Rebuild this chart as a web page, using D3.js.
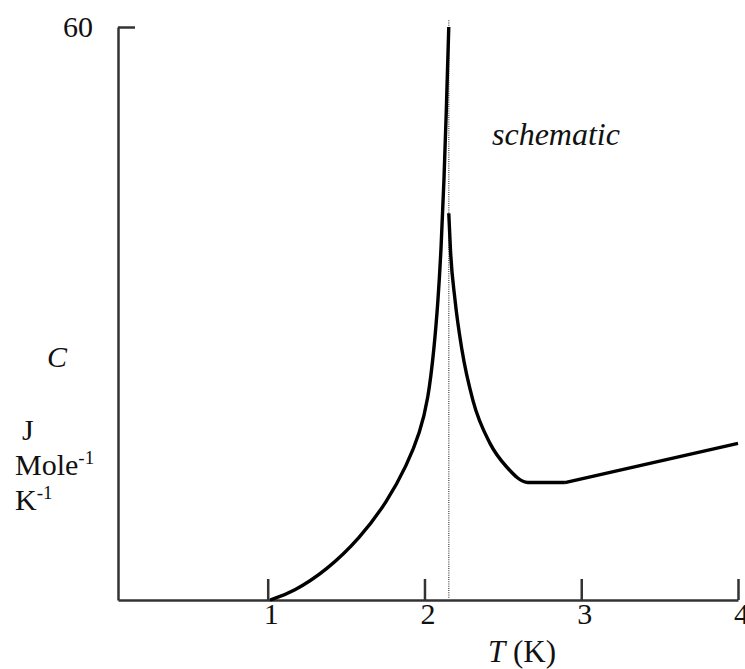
<!DOCTYPE html>
<html>
<head>
<meta charset="utf-8">
<script src="https://cdn.jsdelivr.net/npm/d3@7"></script>
<style>
  body { margin: 0; background: #fff; }
  text { font-family: "Liberation Serif", "Times New Roman", serif; fill: #111; }
  .axis path, .axis line { stroke: #333; stroke-width: 2.5; }
  .axis text { font-size: 30px; font-family: "Liberation Serif", "Times New Roman", serif; fill: #111; }
</style>
</head>
<body>
<div id="chart"></div>
<script>
var svgWidth = 745;
var svgHeight = 669;

// heat capacity of liquid helium near the lambda point (schematic), T in K, C in J/mol/K
var lambdaT = 2.155;
var belowLambda = [
    [1.015, 0], [1.162, 0.84], [1.378, 3.14], [1.589, 6.49], [1.761, 10.26],
    [1.889, 14.14], [1.972, 17.59], [2.023, 20.94], [2.061, 26.18], [2.087, 31.41],
    [2.106, 36.65], [2.125, 43.98], [2.141, 52.04], [2.155, 60]
];
var aboveLambda = [
    [2.155, 40.5], [2.166, 36.6], [2.195, 31.4], [2.239, 26.2], [2.309, 20.9],
    [2.418, 16.4], [2.526, 13.9], [2.660, 12.3], [2.896, 12.3]
];
var tail = [[2.896, 12.3], [4.0, 16.4]];

var xTicks = [1, 2, 3, 4];
var yTicks = [60];
var xStart = 0.045;   // axis begins just right of T = 0
var dottedTop = 60.7;

var svg = d3.select("#chart")
    .append("svg")
    .attr("width", svgWidth)
    .attr("height", svgHeight);

var x = d3.scaleLinear()
    .domain([xStart, 4])
    .range([118, 738]);

var y = d3.scaleLinear()
    .domain([0, 60])
    .range([600, 27]);

// x axis, ticks pointing up
svg.append("g")
    .attr("class", "axis")
    .attr("transform", `translate(0, ${y(0)})`)
    .call(d3.axisBottom(x).tickValues(xTicks).tickSizeInner(-21).tickSizeOuter(0).tickPadding(3).tickFormat(d3.format("d")))
    .call(g => g.selectAll(".tick text").attr("dx", 3));

// y axis, only the 60 tick, pointing right
svg.append("g")
    .attr("class", "axis")
    .attr("transform", `translate(${x(xStart)}, 0)`)
    .call(d3.axisLeft(y).tickValues(yTicks).tickSizeInner(-17).tickSizeOuter(0).tickPadding(25));

// dotted line at lambda point
svg.append("line")
    .attr("x1", x(lambdaT))
    .attr("x2", x(lambdaT))
    .attr("y1", y(dottedTop))
    .attr("y2", y(0))
    .attr("stroke", "#666")
    .attr("stroke-width", 1.5)
    .attr("stroke-dasharray", "1,1.2");

// below lambda: smoothed, above lambda: keeps the flat bottom
var lineBelow = d3.line()
    .x(d => x(d[0]))
    .y(d => y(d[1]))
    .curve(d3.curveBasis);

var lineAbove = d3.line()
    .x(d => x(d[0]))
    .y(d => y(d[1]))
    .curve(d3.curveMonotoneX);

var straight = d3.line()
    .x(d => x(d[0]))
    .y(d => y(d[1]));

svg.append("path")
    .datum(belowLambda)
    .attr("d", lineBelow)
    .attr("fill", "none")
    .attr("stroke", "#000")
    .attr("stroke-width", 3.4);

svg.append("path")
    .datum(aboveLambda)
    .attr("d", lineAbove)
    .attr("fill", "none")
    .attr("stroke", "#000")
    .attr("stroke-width", 3.4);

svg.append("path")
    .datum(tail)
    .attr("d", straight)
    .attr("fill", "none")
    .attr("stroke", "#000")
    .attr("stroke-width", 3.4);

// labels
svg.append("text")
    .attr("x", 492)
    .attr("y", 145)
    .style("font-size", "32px")
    .style("font-style", "italic")
    .text("schematic");

var xLabel = svg.append("text")
    .attr("x", 488)
    .attr("y", 662)
    .style("font-size", "31px");
xLabel.append("tspan").style("font-style", "italic").text("T");
xLabel.append("tspan").text(" (K)");

svg.append("text")
    .attr("x", 47)
    .attr("y", 367)
    .style("font-size", "30px")
    .style("font-style", "italic")
    .text("C");

svg.append("text")
    .attr("x", 22)
    .attr("y", 440)
    .style("font-size", "30px")
    .text("J");

var mole = svg.append("text")
    .attr("x", 15)
    .attr("y", 475)
    .style("font-size", "30px");
mole.append("tspan").text("Mole");
mole.append("tspan").attr("dy", -11).style("font-size", "19px").text("-1");

var kelvin = svg.append("text")
    .attr("x", 15)
    .attr("y", 510)
    .style("font-size", "30px");
kelvin.append("tspan").text("K");
kelvin.append("tspan").attr("dy", -11).style("font-size", "19px").text("-1");
</script>
</body>
</html>
